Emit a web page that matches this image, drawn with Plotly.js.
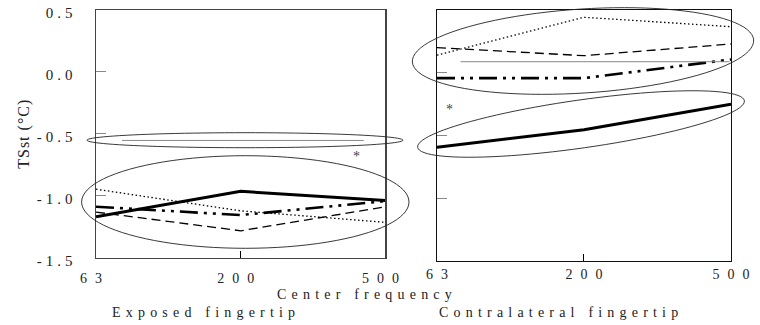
<!DOCTYPE html>
<html>
<head>
<meta charset="utf-8">
<script src="https://cdn.plot.ly/plotly-3.0.1.min.js"></script>
<style>
  html, body { margin: 0; padding: 0; background: #fff; }
  #chart { width: 760px; height: 325px; }
  .xtick text, .x2tick text { letter-spacing: 8px; }
  .ytick text { letter-spacing: 4px; }
  .ytitle { letter-spacing: 1px; }
  .annotation-text { letter-spacing: 5.2px; }
</style>
</head>
<body>
<div id="chart"></div>
<script>
// ---------- data ----------
const freqLabels = ['63', '200', '500'];          // center frequency (Hz)
const yTickVals = [0.5, 0, -0.5, -1, -1.5];
const yTickText = ['0.5', '0.0', '-0.5', '-1.0', '-1.5'];

// Exposed fingertip (left panel), TSst (°C)
const expSolid   = [-1.170, -0.965, -1.040];
const expDotted  = [-0.948, -1.123, -1.216];
const expDashed  = [-1.133, -1.284, -1.090];
const expDashDot = [-1.090, -1.157, -1.044];

// Contralateral fingertip (right panel), TSst (°C)
const conSolid   = [-0.593, -0.455, -0.250];
const conDotted  = [0.140, 0.442, 0.367];
const conDashed  = [0.200, 0.136, 0.229];
const conDashDot = [-0.043, -0.043, 0.106];

// thin grey reference levels (start/end given as category serial positions)
const expRefX = [0.18, 1.85];
const expRefY = -0.554;
const conRefX = [0.16, 1.99];
const conRefY = 0.088;

// significance marks
const expStar = {x: 1.82, y: -0.685};
const conStar = {x: 0.10, y: -0.29};

// ---------- styling helpers ----------
const W = 760, H = 325;
const M = {l: 96, r: 29, t: 10, b: 64};
const PW = W - M.l - M.r, PH = H - M.t - M.b;

const styles = {
  solid:   {color: '#000', width: 3,   dash: 'solid'},
  dotted:  {color: '#000', width: 1.3, dash: '1.5px,2.5px'},
  dashed:  {color: '#000', width: 1.3, dash: '9px,5px'},
  dashdot: {color: '#000', width: 2.6, dash: '18px,6px,3px,6px,3px,6px'}
};

function line(y, st, xa, ya) {
  return {x: freqLabels, y: y, xaxis: xa, yaxis: ya, type: 'scatter', mode: 'lines',
          line: styles[st], hoverinfo: 'skip', showlegend: false};
}

const traces = [
  line(expDotted, 'dotted', 'x', 'y'),
  line(expDashed, 'dashed', 'x', 'y'),
  line(expDashDot, 'dashdot', 'x', 'y'),
  line(expSolid, 'solid', 'x', 'y'),
  line(conDotted, 'dotted', 'x2', 'y2'),
  line(conDashed, 'dashed', 'x2', 'y2'),
  line(conDashDot, 'dashdot', 'x2', 'y2'),
  line(conSolid, 'solid', 'x2', 'y2')
];

// grouping ellipses: [cx, cy, semi-major, semi-minor, tilt deg] in page pixels
const ellipses = [
  [245, 140.2, 158, 7.5, 0],
  [245.3, 202, 163.7, 46.3, 0],
  [583, 51, 171, 42, 3.7],
  [581, 124, 165, 24, 8.1]
];
function ellipsePath(e) {
  const [cx, cy, a, b, deg] = e;
  const t = deg * Math.PI / 180;
  let p = '';
  for (let i = 0; i <= 96; i++) {
    const f = i / 96 * 2 * Math.PI;
    const X = cx + a * Math.cos(f) * Math.cos(t) + b * Math.sin(f) * Math.sin(t);
    const Y = cy - a * Math.cos(f) * Math.sin(t) + b * Math.sin(f) * Math.cos(t);
    const px = (X - M.l) / PW, py = (M.t + PH - Y) / PH;
    p += (i === 0 ? 'M' : 'L') + px.toFixed(5) + ',' + py.toFixed(5);
  }
  return p + 'Z';
}

const shapes = ellipses.map(e => ({
  type: 'path', xref: 'paper', yref: 'paper', path: ellipsePath(e),
  line: {color: '#222', width: 0.9}, fillcolor: 'rgba(0,0,0,0)'
}));
shapes.push({type: 'line', xref: 'x', yref: 'y', x0: expRefX[0], x1: expRefX[1],
             y0: expRefY, y1: expRefY, line: {color: '#888', width: 1}});
shapes.push({type: 'line', xref: 'x2', yref: 'y2', x0: conRefX[0], x1: conRefX[1],
             y0: conRefY, y1: conRefY, line: {color: '#888', width: 1}});

const serif = 'Liberation Serif, Times New Roman, serif';
const txt = {family: serif, size: 14, color: '#222'};

const xBase = {
  type: 'category', range: [0, 2], tickvals: freqLabels, ticktext: freqLabels,
  ticks: 'inside', ticklen: 7, tickcolor: '#000', tickwidth: 1,
  showline: true, mirror: true, showgrid: false, zeroline: false,
  tickfont: {family: serif, size: 14, color: '#222'}, fixedrange: true
};
const yBase = {
  range: [-1.5, 0.5], tickvals: yTickVals, ticktext: yTickText,
  ticks: 'inside', ticklen: 10, tickcolor: '#888', tickwidth: 1,
  showline: true, mirror: true, showgrid: false, zeroline: false,
  tickfont: {family: serif, size: 15, color: '#222'}, fixedrange: true,
  ticklabeloverflow: 'allow'
};

const layout = {
  width: W, height: H, margin: M,
  paper_bgcolor: '#fff', plot_bgcolor: '#fff',
  font: {family: serif, size: 14, color: '#222'},
  showlegend: false,
  xaxis: Object.assign({}, xBase, {domain: [0, 0.4559], anchor: 'y',
    linecolor: '#444', linewidth: 1.5, ticklabelstandoff: 7, ticklabelshift: -1}),
  yaxis: Object.assign({}, yBase, {domain: [0.0139, 1], anchor: 'x',
    linecolor: '#444', linewidth: 1.5, ticklabelstandoff: 15, ticklabelshift: 3,
    title: {text: 'TSst (°C)', font: {family: serif, size: 16, color: '#222'}, standoff: 3}}),
  xaxis2: Object.assign({}, xBase, {domain: [0.537, 1], anchor: 'y2',
    linecolor: '#111', linewidth: 1, ticklabelstandoff: 0, ticklabelshift: 4}),
  yaxis2: Object.assign({}, yBase, {domain: [0, 1], anchor: 'x2',
    linecolor: '#111', linewidth: 1, showticklabels: false}),
  shapes: shapes,
  annotations: [
    {text: 'Center frequency', xref: 'paper', yref: 'paper', x: 0.4268, y: -0.1315,
     xanchor: 'center', yanchor: 'middle', showarrow: false, font: txt},
    {text: 'Exposed fingertip', xref: 'paper', yref: 'paper', x: 0.1732, y: -0.2032,
     xanchor: 'center', yanchor: 'middle', showarrow: false, font: txt},
    {text: 'Contralateral fingertip', xref: 'paper', yref: 'paper', x: 0.7323, y: -0.2032,
     xanchor: 'center', yanchor: 'middle', showarrow: false, font: txt},
    {text: '*', xref: 'x', yref: 'y', x: expStar.x, y: expStar.y, showarrow: false,
     font: {family: serif, size: 14, color: '#444'}},
    {text: '*', xref: 'x2', yref: 'y2', x: conStar.x, y: conStar.y, showarrow: false,
     font: {family: serif, size: 14, color: '#444'}}
  ]
};

Plotly.newPlot('chart', traces, layout, {staticPlot: true, displayModeBar: false});
</script>
</body>
</html>
